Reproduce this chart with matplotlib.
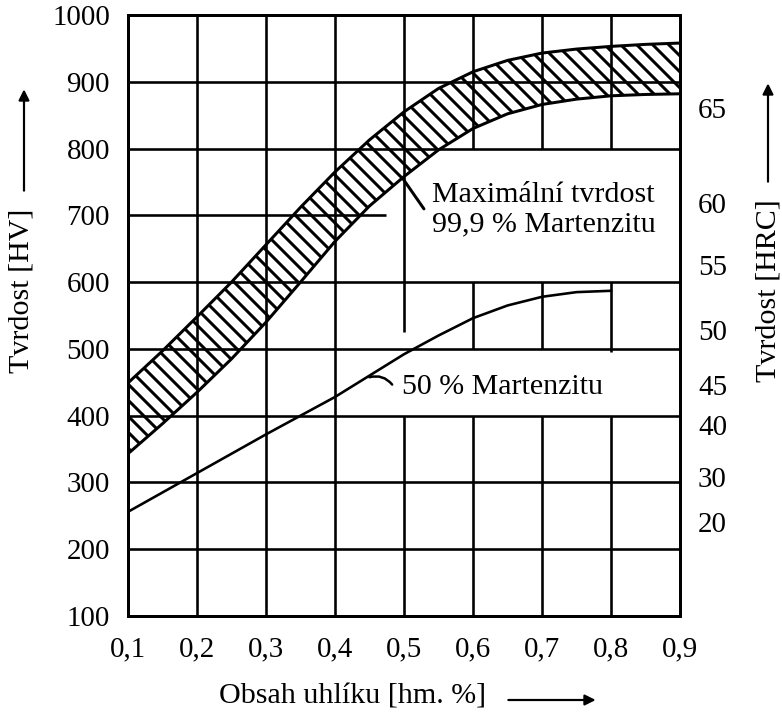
import matplotlib.pyplot as plt

W, H, DPI = 782, 713, 48
P = 72 / DPI  # pixely -> body

plt.rcParams['font.family'] = ['Liberation Serif', 'DejaVu Serif']
plt.rcParams['hatch.linewidth'] = 3.0 * P

# obsah uhliku [hm. %]
carbon = [0.10, 0.15, 0.20, 0.25, 0.30, 0.35, 0.40, 0.45, 0.50,
          0.55, 0.60, 0.65, 0.70, 0.75, 0.80, 0.85, 0.90]
# pasmo maximalni tvrdosti (99,9 % martenzitu), HV
hv_max_upper = [449, 497, 548, 600, 656, 712, 765, 813, 855,
                890, 915, 932, 943, 949, 953, 956, 958]
hv_max_lower = [343, 388, 435, 485, 540, 600, 661, 714, 758,
                798, 830, 852, 866, 874, 879, 881, 882]

# 50 % martenzitu
carbon_half = [0.10, 0.15, 0.20, 0.25, 0.30, 0.35, 0.40, 0.45,
               0.50, 0.55, 0.60, 0.65, 0.70, 0.75, 0.80]
hv_half = [256, 285, 314, 343, 372, 400, 428, 460,
           492, 520, 546, 565, 578, 585, 587]

x_ticks = [0.1, 0.2, 0.3, 0.4, 0.5, 0.6, 0.7, 0.8, 0.9]
x_labels = ['0,1', '0,2', '0,3', '0,4', '0,5', '0,6', '0,7', '0,8', '0,9']
hv_ticks = [100, 200, 300, 400, 500, 600, 700, 800, 900, 1000]

# HRC stupnice vpravo (poloha v HV)
hrc_pos = [241, 308, 386, 446, 528, 626, 719, 861]
hrc_labels = ['20', '30', '40', '45', '50', '55', '60', '65']

# mrizka - prerusena kolem popisku
grid_v = {
    0.2: [(100, 1000)],
    0.3: [(100, 1000)],
    0.4: [(100, 1000)],
    0.5: [(100, 400), (525, 1000)],
    0.6: [(100, 400), (500, 600), (800, 1000)],
    0.7: [(100, 400), (500, 600), (800, 1000)],
    0.8: [(100, 400), (495, 600), (800, 1000)],
}
grid_h = {
    200: [(0.1, 0.9)],
    300: [(0.1, 0.9)],
    400: [(0.1, 0.9)],
    500: [(0.1, 0.9)],
    600: [(0.1, 0.9)],
    700: [(0.1, 0.474)],
    800: [(0.1, 0.9)],
    900: [(0.1, 0.9)],
}

FS = 30 * P
TS = 29 * P
fig = plt.figure(figsize=(W / DPI, H / DPI), dpi=DPI)
ax = fig.add_axes([128 / W, 1 - 616 / H, 552 / W, 601 / H])
ax.set_xlim(0.1, 0.9)
ax.set_ylim(100, 1000)

for x, spans in grid_v.items():
    for y0, y1 in spans:
        ax.vlines(x, y0, y1, color='black', lw=2.6 * P, zorder=1)
for y, spans in grid_h.items():
    for x0, x1 in spans:
        ax.hlines(y, x0, x1, color='black', lw=2.6 * P, zorder=1)

ax.fill_between(carbon, hv_max_lower, hv_max_upper, facecolor='none',
                edgecolor='black', hatch='\\', linewidth=0, zorder=2)
ax.plot(carbon, hv_max_upper, color='black', lw=3 * P, zorder=3)
ax.plot(carbon, hv_max_lower, color='black', lw=3 * P, zorder=3)
ax.plot(carbon_half, hv_half, color='black', lw=2.6 * P, zorder=3)

ax.annotate('', xy=(0.497, 757), xytext=(0.530, 708),
            arrowprops=dict(arrowstyle='-', lw=3 * P, color='black'))
ax.text(0.541, 708, 'Maximální tvrdost\n99,9 % Martenzitu', fontsize=FS,
        ha='left', va='center', linespacing=1.15)
ax.annotate('', xy=(0.448, 457), xytext=(0.484, 445),
            arrowprops=dict(arrowstyle='-', lw=2.5 * P, color='black',
                            connectionstyle='arc3,rad=0.35'))
ax.text(0.497, 443, '50 % Martenzitu', fontsize=FS, ha='left', va='center')

ax.set_xticks(x_ticks)
ax.set_xticklabels(x_labels)
ax.set_yticks(hv_ticks)
ax.tick_params(axis='both', length=0, labelsize=TS)
ax.tick_params(axis='x', pad=20 * P)
ax.tick_params(axis='y', pad=18 * P)
for s in ax.spines.values():
    s.set_linewidth(3 * P)

ax2 = ax.twinx()
ax2.set_ylim(100, 1000)
ax2.set_yticks(hrc_pos)
ax2.set_yticklabels(hrc_labels)
ax2.tick_params(axis='y', length=0, labelsize=TS, pad=18 * P)
for s in ax2.spines.values():
    s.set_linewidth(3 * P)

# popisky os se sipkami
fig.text(22 / W, 1 - 291 / H, 'Tvrdost [HV]', rotation=90, fontsize=FS,
         ha='center', va='center')
fig.text(769 / W, 1 - 291 / H, 'Tvrdost [HRC]', rotation=90, fontsize=FS,
         ha='center', va='center')
fig.text(353 / W, 1 - 697 / H, 'Obsah uhlíku [hm. %]', fontsize=FS,
         ha='center', va='center')

arrow = dict(arrowstyle='-|>', lw=2.2 * P, color='black', mutation_scale=22 * P)
ax.annotate('', xy=(24 / W, 1 - 88 / H), xytext=(24 / W, 1 - 192 / H),
            xycoords='figure fraction', arrowprops=arrow)
ax.annotate('', xy=(768 / W, 1 - 82 / H), xytext=(768 / W, 1 - 183 / H),
            xycoords='figure fraction', arrowprops=arrow)
ax.annotate('', xy=(597 / W, 1 - 700 / H), xytext=(507 / W, 1 - 700 / H),
            xycoords='figure fraction', arrowprops=arrow)

fig.savefig('out.png', dpi=DPI)
